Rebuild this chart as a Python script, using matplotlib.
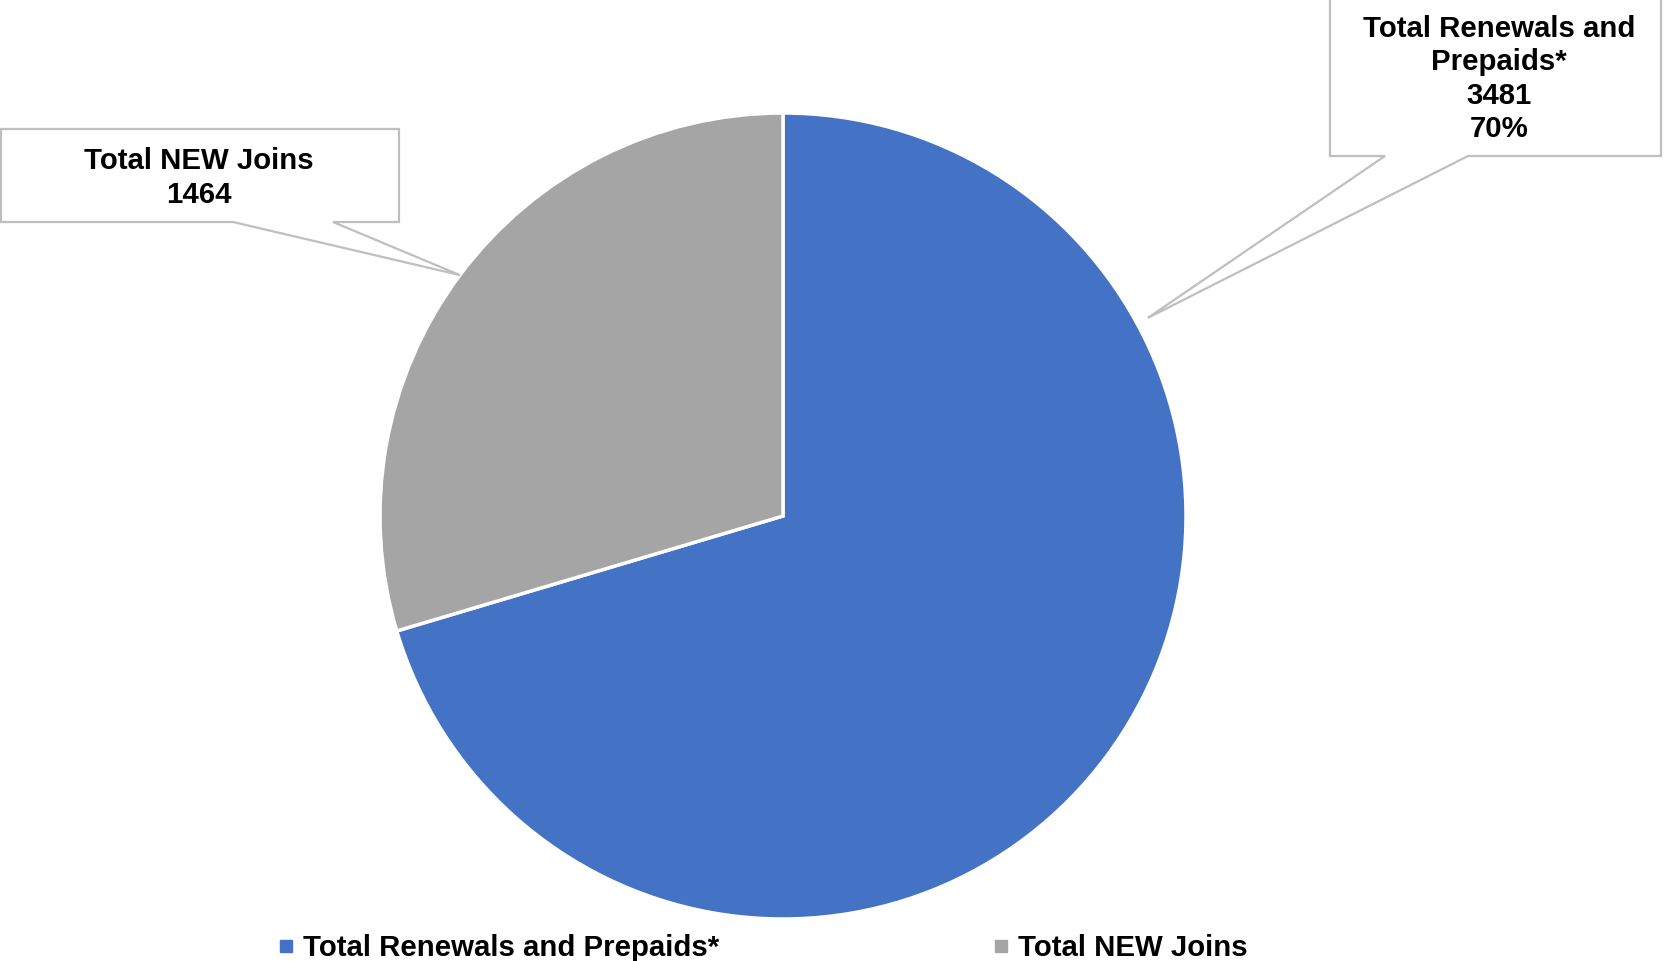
import numpy as np
import matplotlib.pyplot as plt
from matplotlib.patches import Polygon
from matplotlib.lines import Line2D

# Datos
categories = ['Total Renewals and Prepaids*', 'Total NEW Joins']
values = [3481, 1464]
colors = ['#4472C4', '#A5A5A5']
callout_text = ['Total Renewals and\nPrepaids*\n3481\n70%', 'Total NEW Joins\n1464']

W, H = 1668, 961
plt.rcParams['font.family'] = ['Liberation Sans', 'DejaVu Sans']

fig = plt.figure(figsize=(W / 100, H / 100), dpi=100)

# Ejes del pastel: centro (783, 516), radio 403 px
cx, cy, r = 783, 516, 403
ax = fig.add_axes([(cx - r) / W, (H - cy - r) / H, 2 * r / W, 2 * r / H])
wedges, _ = ax.pie(values, colors=colors, startangle=90, counterclock=False,
                   wedgeprops=dict(edgecolor='white', linewidth=2.5))
ax.set_xlim(-1, 1)
ax.set_ylim(-1, 1)
ax.set_aspect('equal')
ax.axis('off')

fig.canvas.draw()


def px_to_fig(x, y):
    return x / W, 1 - y / H


def tip_from_angle(angle_deg, rad=1.0):
    a = np.deg2rad(angle_deg)
    disp = ax.transData.transform((rad * np.cos(a), rad * np.sin(a)))
    return fig.transFigure.inverted().transform(disp)


def callout(box, base, tip, text, text_center):
    x0, y0, x1, y1 = box
    b0, b1 = base
    verts = [px_to_fig(x0, y0), px_to_fig(x1, y0), px_to_fig(x1, y1),
             px_to_fig(b1, y1), tuple(tip), px_to_fig(b0, y1), px_to_fig(x0, y1)]
    poly = Polygon(verts, closed=True, transform=fig.transFigure,
                   facecolor='white', edgecolor='#BFBFBF', linewidth=1.6, zorder=5)
    fig.add_artist(poly)
    tx, ty = px_to_fig(*text_center)
    fig.text(tx, ty, text, ha='center', va='center', fontsize=21.2,
             fontweight='bold', linespacing=1.24, zorder=6)


# Etiqueta de NEW Joins: punta en el ángulo medio de la cuña
gray = wedges[1]
mid_gray = (gray.theta1 + gray.theta2) / 2
callout((1, 129, 399, 222), (233, 333), tip_from_angle(mid_gray, 1.0),
        callout_text[1], (199, 178))

# Etiqueta de Renewals
callout((1330, -2, 1661, 156), (1385, 1468), tip_from_angle(28.5, 1.03),
        callout_text[0], (1499, 79))

# Leyenda
handles = [Line2D([], [], marker='s', linestyle='none', markersize=8,
                  markerfacecolor=c, markeredgecolor=c) for c in colors]
fig.legend(handles, categories, loc='center left', ncol=2,
           bbox_to_anchor=(278 / W, 1 - 948 / H), frameon=False,
           prop=dict(size=21.2, weight='bold'), handlelength=0.55,
           handletextpad=0.3, columnspacing=9.3, borderpad=0, borderaxespad=0)

fig.savefig('out.png', dpi=100)
